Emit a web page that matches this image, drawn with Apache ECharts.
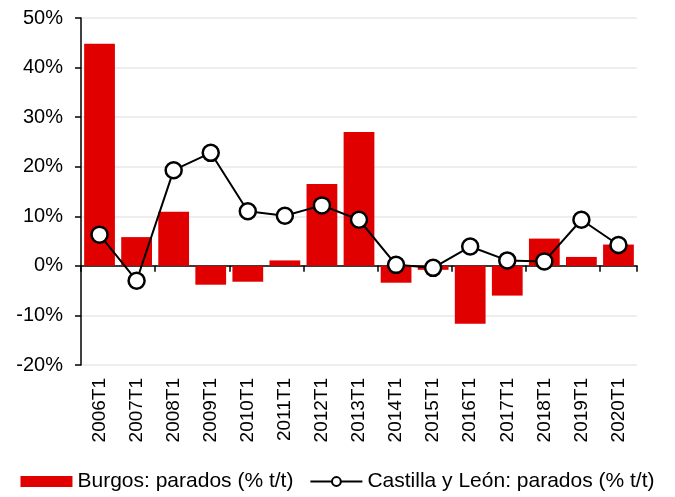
<!DOCTYPE html>
<html>
<head>
<meta charset="utf-8">
<script src="https://cdn.jsdelivr.net/npm/echarts@6/dist/echarts.min.js"></script>
<style>
html,body{margin:0;padding:0;background:#fff;}
#chart{width:675px;height:497px;}
</style>
</head>
<body>
<div id="chart"></div>
<script>
// datos
var periodos = ['2006T1','2007T1','2008T1','2009T1','2010T1','2011T1','2012T1','2013T1','2014T1','2015T1','2016T1','2017T1','2018T1','2019T1','2020T1'];
var burgos = [44.8, 5.8, 10.9, -3.8, -3.2, 1.1, 16.5, 27.0, -3.4, -0.8, -11.7, -6.0, 5.5, 1.8, 4.3];
var castilla = [6.3, -3.0, 19.3, 22.8, 11.0, 10.1, 12.2, 9.3, 0.2, -0.4, 3.9, 1.1, 0.9, 9.3, 4.2];
var ticksY = {min: -20, max: 50, step: 10};

var fuente = 'Liberation Sans, Arial, sans-serif';
var chart = echarts.init(document.getElementById('chart'));

var option = {
    animation: false,
    grid: {left: 81, right: 38, top: 18, bottom: 132},
    legend: {
        top: 471,
        left: 'center',
        padding: 0,
        itemWidth: 52,
        itemHeight: 11,
        itemGap: 16,
        textStyle: {fontFamily: fuente, fontSize: 21, color: '#000'},
        data: [
            {name: 'Burgos: parados (% t/t)', icon: 'rect'},
            {name: 'Castilla y León: parados (% t/t)'}
        ]
    },
    xAxis: [
        {
            type: 'category',
            data: periodos,
            axisLine: {onZero: true, lineStyle: {color: '#000', width: 1.5}},
            axisTick: {show: true, length: 6, lineStyle: {color: '#000', width: 1.5}},
            axisLabel: {show: false},
            splitLine: {show: false}
        },
        {
            type: 'category',
            data: periodos,
            position: 'bottom',
            axisLine: {show: false, onZero: false},
            axisTick: {show: false},
            axisLabel: {rotate: 90, margin: 13, fontFamily: fuente, fontSize: 19, color: '#000'}
        }
    ],
    yAxis: {
        type: 'value',
        min: ticksY.min,
        max: ticksY.max,
        interval: ticksY.step,
        axisLine: {show: true, lineStyle: {color: '#000', width: 1.5}},
        axisTick: {show: true, length: 6, lineStyle: {color: '#000', width: 1.5}},
        axisLabel: {formatter: '{value}%', margin: 18, fontFamily: fuente, fontSize: 20, color: '#000'},
        splitLine: {lineStyle: {color: '#e8e8e8', width: 1.5}}
    },
    series: [
        {
            name: 'Burgos: parados (% t/t)',
            type: 'bar',
            data: burgos,
            barCategoryGap: '17%',
            itemStyle: {color: '#e00000'}
        },
        {
            name: 'Castilla y León: parados (% t/t)',
            type: 'line',
            data: castilla,
            symbol: 'circle',
            symbolSize: 16,
            lineStyle: {color: '#000', width: 2},
            itemStyle: {color: '#fff', borderColor: '#000', borderWidth: 2.5}
        }
    ]
};
chart.setOption(option);
</script>
</body>
</html>
